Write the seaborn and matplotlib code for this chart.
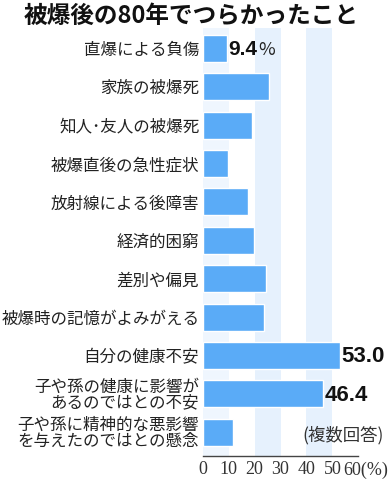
import matplotlib
matplotlib.use('Agg')
import matplotlib.pyplot as plt
import seaborn as sns
import pandas as pd

# データ
items = ['直爆による負傷', '家族の被爆死', '知人･友人の被爆死', '被爆直後の急性症状',
         '放射線による後障害', '経済的困窮', '差別や偏見', '被爆時の記憶がよみがえる',
         '自分の健康不安', '子や孫の健康に影響が\nあるのではとの不安',
         '子や孫に精神的な悪影響\nを与えたのではとの懸念']
values = [9.4, 25.5, 19.0, 9.8, 17.4, 19.7, 24.5, 23.8, 53.0, 46.4, 11.6]
shown = [0, 8, 9]  # 数値を表示する項目
xticks = [0, 10, 20, 30, 40, 50]

df = pd.DataFrame({'項目': items, '割合': values})

sns.set_style('white')
plt.rcParams['font.family'] = ['Noto Sans CJK JP', 'DejaVu Sans']
numfont = ['Liberation Sans', 'DejaVu Sans']
serif = ['Liberation Serif', 'DejaVu Serif']

fig = plt.figure(figsize=(3.91, 4.79), dpi=100)
ax = fig.add_axes([0.5184, 0.0486, 0.398, 0.893])

# 背景の帯
ax.axvspan(0, 10, color='#eff6fe', zorder=0, lw=0)
ax.axvspan(20, 30, color='#e6f1fd', zorder=0, lw=0)
ax.axvspan(40, 50, color='#e6f1fd', zorder=0, lw=0)

sns.barplot(x='割合', y='項目', data=df, orient='h', color='#5aabf7',
            saturation=1, width=0.7, ax=ax, zorder=2)

ax.set_xlim(0, 60)
ax.set_ylim(10.61, -0.53)
ax.set_xlabel('')
ax.set_ylabel('')

for s in ['top', 'right', 'left']:
    ax.spines[s].set_visible(False)
ax.spines['bottom'].set_color('#444444')
ax.spines['bottom'].set_linewidth(1)

ax.set_xticks(xticks + [60])
ax.set_xticklabels([str(t) for t in xticks] + [''], fontfamily=serif, fontsize=13, color='#333333')
ax.tick_params(axis='x', direction='in', length=4, width=1, color='#444444', pad=4)
ax.tick_params(axis='y', length=0, pad=2.5)
for lab in ax.get_yticklabels():
    lab.set_fontsize(11.9)
    lab.set_color('#222222')
    lab.set_linespacing(0.9)

ax.annotate('60(%)', xy=(60, 0), xycoords=('data', 'axes fraction'),
            xytext=(-11, -4), textcoords='offset points', ha='left', va='top',
            fontfamily=serif, fontsize=13, color='#333333', annotation_clip=False)

# 数値ラベル
for i in shown:
    v = values[i]
    size = 15 if v < 10 else 16
    t = ax.text(v + 0.6, i + 0.03, f'{v:.1f}', ha='left', va='center', fontsize=size,
                fontweight='bold', family=numfont, color='#111111', clip_on=False)
    if i == 0:
        ax.annotate('%', xy=(1, 0), xycoords=t, xytext=(1, 0), textcoords='offset pixels',
                    ha='left', va='bottom', fontsize=13, color='#222222')

ax.text(69.8, 10.07, '(複数回答)', ha='right', va='center', fontsize=12.5,
        color='#333333', clip_on=False)

fig.text(0.49, 0.968, '被爆後の80年でつらかったこと', ha='center', va='center',
         fontsize=17, fontweight='bold', color='#111111')

fig.savefig('out.png', dpi=100)
